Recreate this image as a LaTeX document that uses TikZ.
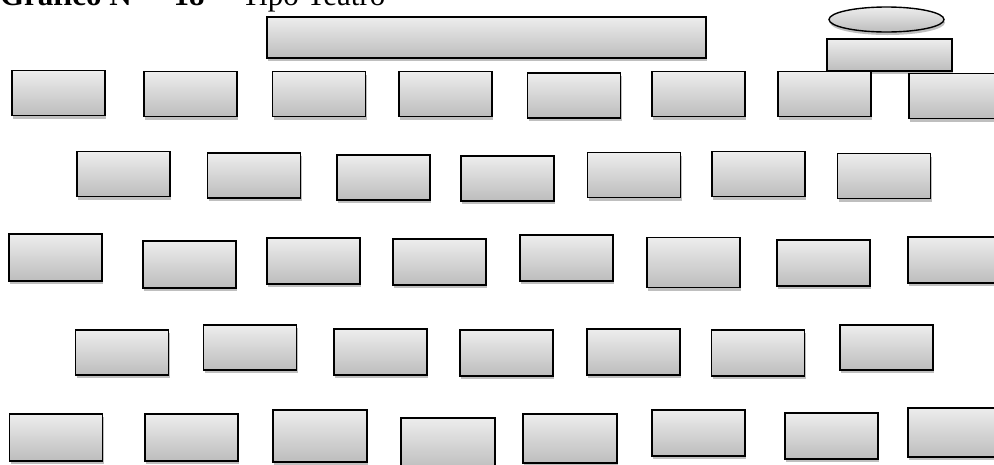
\documentclass[tikz,border=0pt]{standalone}
\usepackage{fontspec}
\setmainfont{Liberation Serif}
\usepackage{xcolor}
\usepackage{tikz}
\usetikzlibrary{shapes.geometric, shadows}

\begin{document}
\begin{tikzpicture}[
    x=1pt, y=-1pt,
    every node/.style={inner sep=0pt, outer sep=0pt},
    sombra/.style={drop shadow={shadow xshift=1pt, shadow yshift=-3pt, opacity=0.25, fill=black}},
    mesa/.style={rectangle, draw=black, line width=1.4pt, top color=black!7, bottom color=black!26,
        minimum width=93pt, minimum height=45pt, sombra},
    escenario/.style={mesa, minimum width=439pt, minimum height=41pt},
    podio/.style={mesa, minimum width=125pt, minimum height=32pt},
    atril/.style={ellipse, draw=black, line width=1.4pt, top color=black!7, bottom color=black!26,
        minimum width=115pt, minimum height=25pt, sombra},
    titulo/.style={anchor=base west},
]
\useasboundingbox (0,0) rectangle (994,464);

% Título
\node[titulo] (tit) at (0,5.5) {\fontsize{31}{37}\selectfont\textbf{Gráfico N°\hspace{9pt}–\hspace{5pt}18\hspace{7pt}–}\hspace{14pt}Tipo Teatro};

% Escenario y podio
\node[escenario] (esc) at (486.5,37.5) {};
\node[atril] (atr) at (886.5,19.5) {};
\node[podio] (pod) at (889.5,55) {};

% Fila 1
\node[mesa] (f1a) at (58.5,93) {};
\node[mesa] (f1b) at (190.5,94) {};
\node[mesa] (f1c) at (319,94) {};
\node[mesa] (f1d) at (445.5,94) {};
\node[mesa] (f1e) at (574,95.5) {};
\node[mesa] (f1f) at (698.5,94) {};
\node[mesa] (f1g) at (824.5,94) {};
\node[mesa] (f1h) at (955.5,96) {};

% Fila 2
\node[mesa] (f2a) at (123.5,174) {};
\node[mesa] (f2b) at (254,175.5) {};
\node[mesa] (f2c) at (383.5,177.5) {};
\node[mesa] (f2d) at (507.5,178.5) {};
\node[mesa] (f2e) at (634,175) {};
\node[mesa] (f2f) at (758.5,174) {};
\node[mesa] (f2g) at (884,176) {};

% Fila 3
\node[mesa, minimum height=47pt] (f3a) at (55.5,257.5) {};
\node[mesa, minimum height=47pt] (f3b) at (189.5,264.5) {};
\node[mesa, minimum height=46pt] (f3c) at (313.5,261) {};
\node[mesa, minimum height=46pt] (f3d) at (439.5,262) {};
\node[mesa, minimum height=46pt] (f3e) at (566.5,258) {};
\node[mesa, minimum height=50pt] (f3f) at (693.5,262.5) {};
\node[mesa, minimum height=46pt] (f3g) at (823.5,263) {};
\node[mesa, minimum height=46pt] (f3h) at (954.5,260) {};

% Fila 4
\node[mesa] (f4a) at (122,352.5) {};
\node[mesa] (f4b) at (250,347.5) {};
\node[mesa, minimum height=46pt] (f4c) at (380.5,352) {};
\node[mesa, minimum height=46pt] (f4d) at (506.5,353) {};
\node[mesa, minimum height=46pt] (f4e) at (633.5,352) {};
\node[mesa, minimum height=46pt] (f4f) at (758,353) {};
\node[mesa] (f4g) at (886.5,347.5) {};

% Fila 5
\node[mesa, minimum height=47pt] (f5a) at (56,437.5) {};
\node[mesa, minimum height=47pt] (f5b) at (191.5,437.5) {};
\node[mesa, minimum height=52pt, minimum width=94pt] (f5c) at (320,436) {};
\node[mesa, minimum height=52pt, minimum width=94pt] (f5d) at (448,444) {};
\node[mesa, minimum height=49pt, minimum width=94pt] (f5e) at (570,438.5) {};
\node[mesa, minimum height=46pt] (f5f) at (698.5,433) {};
\node[mesa, minimum height=46pt] (f5g) at (831.5,436) {};
\node[mesa, minimum height=49pt] (f5h) at (954.5,432.5) {};

\end{tikzpicture}
\end{document}
